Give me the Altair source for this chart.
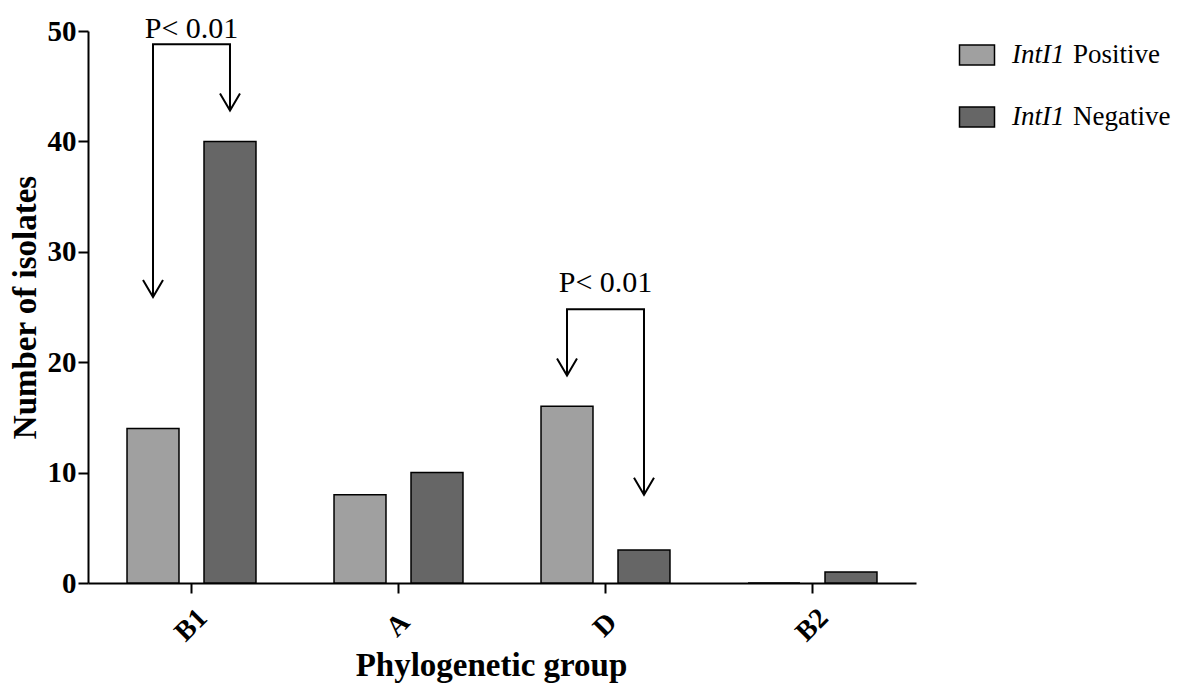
import altair as alt
import pandas as pd

# ---- data ----
groups = ["B1", "A", "D", "B2"]
series = ["IntI1 Positive", "IntI1 Negative"]
positive = [14, 8, 16, 0]
negative = [40, 10, 3, 1]

# significance brackets: (group, series, y) vertices in drawing order
br_id = ["b1", "b1", "b1", "b1", "d", "d", "d", "d"]
br_group = ["B1", "B1", "B1", "B1", "D", "D", "D", "D"]
br_series = ["IntI1 Positive", "IntI1 Positive", "IntI1 Negative", "IntI1 Negative",
             "IntI1 Positive", "IntI1 Positive", "IntI1 Negative", "IntI1 Negative"]
br_y = [25.9, 48.8, 48.8, 42.8, 18.8, 24.8, 24.8, 8.0]
br_step = [0, 1, 2, 3, 0, 1, 2, 3]

p_group = ["B1", "D"]
p_y = [50.2, 27.2]
p_text = ["P< 0.01", "P< 0.01"]

FILLS = ["#a0a0a0", "#666666"]
SERIF = "Liberation Serif"

bars = pd.DataFrame({
    "group": groups * 2,
    "series": [series[0]] * 4 + [series[1]] * 4,
    "value": positive + negative,
})
brackets = pd.DataFrame({"id": br_id, "group": br_group, "series": br_series,
                         "y": br_y, "step": br_step})
tips = brackets[brackets["step"].isin([0, 3])]
ptext = pd.DataFrame({"group": p_group, "y": p_y, "text": p_text})

xenc = alt.X("group:N", sort=groups,
             scale=alt.Scale(paddingInner=0.377, paddingOuter=0.1885),
             axis=alt.Axis(title="Phylogenetic group", labelAngle=-45,
                           labelAlign="center", labelBaseline="middle",
                           labelPadding=32, tickSize=10, tickWidth=2,
                           domainWidth=2, domainColor="black", tickColor="black",
                           labelFont=SERIF, labelFontSize=28, labelFontWeight="bold",
                           labelColor="black",
                           titleFont=SERIF, titleFontSize=33, titleFontWeight="bold",
                           titleColor="black", titleX=403, titleY=92,
                           titleBaseline="alphabetic", titleAlign="center"))
xoff = alt.XOffset("series:N", sort=series,
                   scale=alt.Scale(paddingInner=0.325, paddingOuter=0))
yenc = alt.Y("value:Q", scale=alt.Scale(domain=[0, 50], nice=False),
             axis=alt.Axis(title="Number of isolates", values=[0, 10, 20, 30, 40, 50],
                           grid=False, tickSize=10, tickWidth=2, domainWidth=2,
                           domainColor="black", tickColor="black", labelPadding=2,
                           labelFont=SERIF, labelFontSize=29, labelFontWeight="bold",
                           labelColor="black",
                           titleFont=SERIF, titleFontSize=33, titleFontWeight="bold",
                           titleColor="black", titleX=-63, titleY=276,
                           titleBaseline="middle", titleAlign="center"))

bar_layer = alt.Chart(bars).mark_bar(stroke="black", strokeWidth=1.5).encode(
    x=xenc, xOffset=xoff, y=yenc,
    fill=alt.Fill("series:N", sort=series,
                  scale=alt.Scale(domain=series, range=FILLS), legend=None),
)

line_layer = alt.Chart(brackets).mark_line(color="black", strokeWidth=2).encode(
    x=alt.X("group:N", sort=groups),
    xOffset=alt.XOffset("series:N", sort=series),
    y=alt.Y("y:Q"),
    order=alt.Order("step:Q"),
    detail="id:N",
)

ARROW = "M-1,-1.7L0,0L1,-1.7"
tip_layer = alt.Chart(tips).mark_point(shape=ARROW, size=400, filled=False,
                                       stroke="black", strokeWidth=2, opacity=1).encode(
    x=alt.X("group:N", sort=groups),
    xOffset=alt.XOffset("series:N", sort=series),
    y=alt.Y("y:Q"),
)

text_layer = alt.Chart(ptext).mark_text(font=SERIF, fontSize=30, color="black",
                                        baseline="middle", align="center").encode(
    x=alt.X("group:N", sort=groups),
    y=alt.Y("y:Q"),
    text="text:N",
)

# legend drawn by hand so that "IntI1" can be italic
legend_layers = []
leg_y = [24, 86]
for i, s in enumerate(series):
    word = s.split(" ")[1]
    one = pd.DataFrame({"series": [s]})
    legend_layers.append(alt.Chart(one).mark_point(
        shape="M-1,-0.57L1,-0.57L1,0.57L-1,0.57Z", size=1225, filled=True,
        fill=FILLS[i], stroke="black", strokeWidth=1.5, opacity=1).encode(
        x=alt.value(889), y=alt.value(leg_y[i])))
    legend_layers.append(alt.Chart(one).mark_text(
        text="IntI1", font=SERIF, fontSize=27, fontStyle="italic", color="black",
        align="left", baseline="middle").encode(
        x=alt.value(924), y=alt.value(leg_y[i])))
    legend_layers.append(alt.Chart(one).mark_text(
        text=word, font=SERIF, fontSize=27, color="black",
        align="left", baseline="middle").encode(
        x=alt.value(985), y=alt.value(leg_y[i])))

chart = alt.layer(bar_layer, line_layer, tip_layer, text_layer, *legend_layers).properties(
    width=828, height=552,
    autosize=alt.AutoSizeParams(type="none"),
    padding={"left": 80, "top": 23, "right": 257, "bottom": 100},
    background="white",
).configure_view(stroke=None)

chart.save("out.html", embed_options={"renderer": "svg", "actions": False})
